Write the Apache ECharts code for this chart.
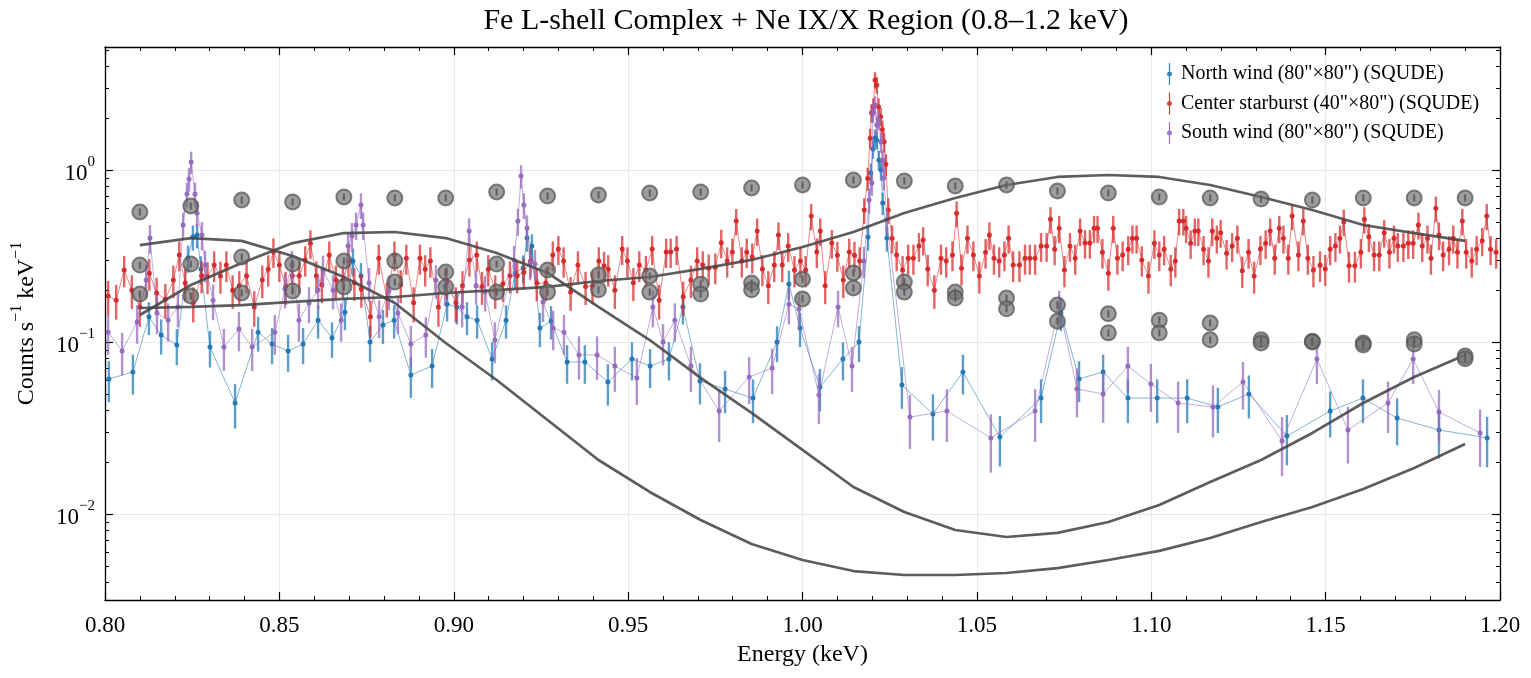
<!DOCTYPE html>
<html><head><meta charset="utf-8">
<script src="https://cdn.jsdelivr.net/npm/echarts@6/dist/echarts.min.js"></script>
<style>html,body{margin:0;padding:0;background:#fff}#chart{width:1531px;height:678px}</style>
</head><body><div id="chart"></div>
<script>
const FONT = '"Liberation Serif","Times New Roman",serif';

// ---- Data (keV, counts s^-1 keV^-1) ----
const redX = [0.8009,0.8032,0.8055,0.8077,0.8100,0.8127,0.8148,0.8173,0.8196,0.8213,0.8230,0.8253,0.8277,0.8294,0.8313,0.8331,0.8348,0.8366,0.8385,0.8406,0.8428,0.8451,0.8468,0.8483,0.8500,0.8518,0.8537,0.8557,0.8574,0.8589,0.8606,0.8622,0.8643,0.8662,0.8682,0.8698,0.8715,0.8735,0.8761,0.8785,0.8808,0.8830,0.8848,0.8864,0.8885,0.8903,0.8918,0.8933,0.8956,0.8980,0.9006,0.9025,0.9045,0.9066,0.9081,0.9099,0.9119,0.9141,0.9161,0.9182,0.9201,0.9220,0.9238,0.9264,0.9284,0.9300,0.9315,0.9335,0.9356,0.9378,0.9398,0.9416,0.9431,
0.9443,0.9462,0.9483,0.9498,0.9515,0.9532,0.9551,0.9569,0.9589,0.9609,0.9622,0.9639,0.9658,0.9680,0.9698,0.9714,0.9731,0.9750,0.9767,0.9784,0.9799,0.9810,0.9826,0.9840,0.9856,0.9870,0.9885,0.9902,0.9919,0.9931,0.9942,0.9959,0.9977,0.9994,1.0009,1.0025,1.0041,1.0051,1.0065,1.0084,1.0100,1.0117,1.0134,1.0149,1.0164,1.0177,1.0187,1.0194,1.0198,1.0203,1.0208,1.0213,1.0218,1.0224,1.0229,1.0234,1.0239,1.0246,1.0257,1.0270,1.0287,1.0303,1.0318,1.0334,1.0346,1.0359,1.0378,1.0397,1.0412,1.0430,1.0442,1.0456,1.0473,1.0490,1.0507,1.0525,1.0536,1.0549,1.0564,1.0579,1.0591,1.0604,1.0622,1.0638,1.0652,1.0667,1.0684,1.0700,1.0711,1.0723,1.0736,1.0751,1.0767,1.0782,1.0796,1.0810,1.0824,1.0836,1.0846,1.0860,1.0877,
1.0891,1.0903,1.0918,1.0934,1.0946,1.0958,1.0973,1.0992,1.1009,1.1023,1.1037,1.1056,1.1069,1.1080,1.1092,1.1100,1.1113,1.1125,1.1135,1.1150,1.1164,1.1175,1.1188,1.1199,1.1216,1.1232,1.1247,1.1261,1.1279,1.1295,1.1313,1.1328,1.1341,1.1354,1.1367,1.1379,1.1393,1.1404,1.1422,1.1436,1.1449,1.1465,1.1484,1.1499,1.1513,1.1528,1.1541,1.1552,1.1567,1.1584,1.1601,1.1611,1.1624,1.1639,1.1654,1.1668,1.1683,1.1696,1.1707,1.1723,1.1737,1.1751,1.1766,1.1777,1.1792,1.1802,1.1816,1.1825,1.1837,1.1854,1.1866,1.1878,1.1892,1.1903,1.1919,1.1933,1.1949,1.1962,1.1973,1.1989];
const redY = [0.185,0.175,0.262,0.200,0.160,0.251,0.193,0.177,0.229,0.321,0.220,0.169,0.243,0.240,0.280,0.242,0.280,0.200,0.212,0.243,0.160,0.229,0.265,0.335,0.280,0.210,0.243,0.243,0.300,0.375,0.243,0.215,0.321,0.229,0.229,0.297,0.221,0.203,0.140,0.307,0.180,0.321,0.215,0.307,0.169,0.307,0.265,0.296,0.160,0.224,0.169,0.212,0.300,0.321,0.210,0.265,0.200,0.218,0.243,0.243,0.254,0.296,0.220,0.220,0.321,0.347,0.296,0.195,0.280,0.210,0.212,0.296,0.277,
0.265,0.200,0.347,0.296,0.221,0.280,0.262,0.347,0.175,0.334,0.334,0.347,0.183,0.229,0.296,0.280,0.268,0.272,0.378,0.296,0.334,0.505,0.296,0.334,0.312,0.442,0.266,0.212,0.280,0.419,0.280,0.361,0.262,0.296,0.262,0.540,0.334,0.442,0.212,0.376,0.319,0.229,0.334,0.319,0.296,0.585,0.894,1.53,2.15,2.33,3.34,3.12,2.33,2.04,1.72,1.46,1.08,0.585,0.401,0.321,0.262,0.307,0.307,0.361,0.392,0.266,0.200,0.307,0.296,0.321,0.560,0.268,0.401,0.321,0.242,0.332,0.419,0.307,0.296,0.321,0.401,0.280,0.280,0.307,0.307,0.307,0.361,0.361,0.517,0.346,0.458,0.262,0.361,0.307,0.442,0.376,0.376,0.458,0.458,0.332,0.251,
0.458,0.307,0.321,0.346,0.401,0.401,0.300,0.242,0.375,0.321,0.346,0.266,0.296,0.505,0.505,0.458,0.375,0.442,0.442,0.346,0.296,0.442,0.401,0.432,0.328,0.361,0.401,0.260,0.332,0.242,0.347,0.375,0.442,0.307,0.458,0.401,0.307,0.540,0.321,0.505,0.307,0.262,0.280,0.266,0.346,0.361,0.401,0.500,0.278,0.278,0.332,0.517,0.409,0.321,0.321,0.432,0.332,0.401,0.361,0.361,0.375,0.375,0.479,0.361,0.401,0.307,0.599,0.419,0.321,0.346,0.401,0.332,0.505,0.332,0.296,0.346,0.388,0.540,0.346,0.332];

const blueX = [0.8011,0.8080,0.8126,0.8161,0.8206,0.8238,0.8252,0.8264,0.8275,0.8301,0.8373,0.8439,0.8479,0.8525,0.8568,0.8611,0.8651,0.8688,0.8711,0.8734,0.8760,0.8797,0.8829,0.8877,0.8938,0.8981,0.9009,0.9038,0.9067,0.9110,0.9150,0.9176,0.9199,0.9210,0.9224,0.9247,0.9279,0.9325,0.9376,0.9442,0.9511,0.9563,0.9617,0.9657,0.9706,0.9778,0.9858,0.9927,0.9961,0.9993,1.0050,1.0116,1.0162,1.0188,1.0196,1.0202,1.0208,1.0213,1.0219,1.0225,1.0230,1.0242,1.0285,1.0374,1.0460,1.0566,1.0684,1.0741,1.0793,1.0862,1.0933,1.1017,1.1103,1.1191,1.1280,1.1389,1.1513,1.1607,1.1705,1.1825,1.1963];
const blueY = [0.0610,0.0669,0.140,0.110,0.0961,0.308,0.408,0.419,0.266,0.0935,0.0442,0.114,0.0974,0.0886,0.0974,0.134,0.1055,0.149,0.296,0.242,0.100,0.1255,0.134,0.0643,0.0725,0.166,0.160,0.140,0.134,0.0797,0.134,0.252,0.269,0.402,0.361,0.1206,0.1325,0.0765,0.0765,0.0585,0.0797,0.0725,0.0797,0.160,0.0593,0.0533,0.0472,0.100,0.2175,0.1206,0.0547,0.0797,0.100,0.408,0.961,1.325,1.535,1.494,1.143,1.00,0.643,0.402,0.0562,0.0382,0.0669,0.0280,0.0472,0.1475,0.0610,0.0669,0.0472,0.0472,0.0472,0.0419,0.0499,0.0284,0.0397,0.0472,0.0361,0.0308,0.0277];

const purpleX = [0.8009,0.8049,0.8092,0.8118,0.8129,0.8149,0.8181,0.8209,0.8224,0.8235,0.8241,0.8247,0.8258,0.8264,0.8278,0.8287,0.8310,0.8341,0.8384,0.8422,0.8487,0.8516,0.8536,0.8556,0.8585,0.8611,0.8625,0.8654,0.8677,0.8697,0.8708,0.8720,0.8734,0.8740,0.8757,0.8786,0.8814,0.8840,0.8877,0.8920,0.8949,0.8975,0.9024,0.9044,0.9064,0.9090,0.9118,0.9173,0.9184,0.9193,0.9201,0.9210,0.9219,0.9233,0.9256,0.9285,0.9316,0.9359,0.9411,0.9462,0.9525,0.9571,0.9600,0.9634,0.9680,0.9761,0.9847,0.9913,0.9961,0.9990,1.0047,1.0102,1.0142,1.0176,1.0191,1.0199,1.0202,1.0208,1.0213,1.0219,1.0225,1.0230,1.0233,1.0242,1.0308,1.0414,1.0540,1.0667,1.0736,1.0787,1.0862,1.0933,1.0999,1.1077,1.1177,1.1263,1.1375,1.1475,1.1564,1.1679,1.1751,1.1825,1.1943];
const purpleY = [0.114,0.0886,0.1307,0.229,0.402,0.1475,0.134,0.160,0.479,0.725,0.886,1.113,0.725,0.560,0.419,0.280,0.175,0.0935,0.119,0.0935,0.114,0.203,0.280,0.134,0.1685,0.2005,0.262,0.200,0.134,0.361,0.413,0.479,0.626,0.479,0.220,0.140,0.198,0.1475,0.0974,0.110,0.229,0.209,0.160,0.442,0.212,0.195,0.1027,0.300,0.505,0.923,0.626,0.460,0.288,0.284,0.171,0.1206,0.114,0.0841,0.0841,0.0725,0.0618,0.160,0.100,0.134,0.0725,0.0397,0.0626,0.0706,0.166,0.1555,0.0492,0.160,0.0725,0.296,0.669,0.840,2.145,2.39,1.827,1.953,1.455,1.143,0.898,0.512,0.0366,0.0397,0.0277,0.0397,0.160,0.0533,0.0499,0.0725,0.0570,0.0442,0.0419,0.0585,0.0266,0.0797,0.0308,0.0442,0.0797,0.0392,0.0296];

// model grid (gray curves and gray circles)
const modelX = [0.8100,0.8246,0.8392,0.8538,0.8685,0.8831,0.8977,0.9123,0.9269,0.9415,0.9562,0.9708,0.9854,1.0000,1.0146,1.0292,1.0438,1.0585,1.0731,1.0877,1.1023,1.1169,1.1315,1.1462,1.1608,1.1754,1.1900];
const curveA = [0.366,0.402,0.387,0.316,0.239,0.1685,0.0987,0.0601,0.0352,0.0206,0.01343,0.00923,0.00669,0.0054,0.00466,0.00442,0.00442,0.00454,0.00485,0.0054,0.0061,0.00725,0.00899,0.01098,0.01397,0.0185,0.0255];
const curveB = [0.1435,0.2145,0.288,0.376,0.430,0.436,0.402,0.329,0.252,0.160,0.1027,0.0618,0.0387,0.0236,0.01436,0.01027,0.00807,0.00735,0.00776,0.00899,0.01128,0.01535,0.0206,0.0296,0.0442,0.0626,0.0841];
const curveC = [0.1576,0.160,0.164,0.171,0.178,0.1826,0.1927,0.2005,0.209,0.2263,0.2387,0.266,0.300,0.3566,0.436,0.5623,0.6876,0.818,0.911,0.935,0.911,0.818,0.697,0.585,0.479,0.430,0.387];
const circTop = [0.570,0.618,0.669,0.652,0.697,0.688,0.688,0.745,0.706,0.716,0.735,0.745,0.786,0.818,0.875,0.863,0.807,0.818,0.755,0.735,0.697,0.688,0.678,0.669,0.688,0.688,0.688];
const circMid = [0.280,0.284,0.312,0.284,0.296,0.296,0.255,0.284,0.262,0.245,0.242,0.217,0.220,0.232,0.252,0.223,0.195,0.180,0.164,0.146,0.134,0.129,0.103,0.101,0.0987,0.103,0.083];
const circLow = [0.190,0.185,0.193,0.198,0.209,0.223,0.209,0.195,0.195,0.201,0.195,0.190,0.201,0.178,0.206,0.195,0.180,0.156,0.132,0.113,0.113,0.103,0.0987,0.100,0.096,0.0974,0.080];

// typical relative error at a reference level, per series
const redErr = {base: 0.20, ref: 0.30};
const blueErr = {base: 0.25, ref: 0.08};
const purpleErr = {base: 0.27, ref: 0.10};

const xTickLabels = ['0.80','0.85','0.90','0.95','1.00','1.05','1.10','1.15','1.20'];
const yMajor = [0.01, 0.1, 1];
const yMinor = [0.004,0.005,0.006,0.007,0.008,0.009,0.02,0.03,0.04,0.05,0.06,0.07,0.08,0.09,0.2,0.3,0.4,0.5,0.6,0.7,0.8,0.9,2,3,4,5];

const names = ['North wind (80"×80") (SQUDE)', 'Center starburst (40"×80") (SQUDE)', 'South wind (80"×80") (SQUDE)'];
const colors = ['#1f77b4', '#d62728', '#9467bd'];

// ---- build ----
function pts(xs, ys) { const n = Math.min(xs.length, ys.length); const a = []; for (let i = 0; i < n; i++) a.push([xs[i], ys[i]]); return a; }
function errPts(xs, ys, e) {
  const n = Math.min(xs.length, ys.length); const a = [];
  for (let i = 0; i < n; i++) { const v = ys[i]; const r = e.base * Math.pow(v / e.ref, -0.25); const d = v * r; a.push([xs[i], Math.max(v - d, v * 0.25), v + d]); }
  return a;
}
function barRender(color, width, opacity) {
  return function (params, api) {
    const p1 = api.coord([api.value(0), api.value(1)]);
    const p2 = api.coord([api.value(0), api.value(2)]);
    return { type: 'line', shape: { x1: p1[0], y1: p1[1], x2: p2[0], y2: p2[1] }, style: { stroke: color, lineWidth: width, opacity: opacity } };
  };
}
function circMark(params, api) {
  const p = api.coord([api.value(0), api.value(1)]);
  return { type: 'line', shape: { x1: p[0], y1: p[1] - 3.5, x2: p[0], y2: p[1] + 3.5 }, style: { stroke: '#5e5e5e', lineWidth: 2 } };
}

const series = [];
const sets = [[blueX, blueY, blueErr], [redX, redY, redErr], [purpleX, purpleY, purpleErr]];
sets.forEach((s, k) => {
  series.push({ name: names[k] + ' err', type: 'custom', renderItem: barRender(colors[k], 2.4, 0.72), data: errPts(s[0], s[1], s[2]), encode: { x: 0, y: [1, 2] }, z: 2 + k, silent: true });
  series.push({ name: names[k], type: 'line', data: pts(s[0], s[1]), symbol: 'circle', symbolSize: 5, showSymbol: true,
    lineStyle: { color: colors[k], width: 1, opacity: 0.55 }, itemStyle: { color: colors[k], opacity: 0.95 }, z: 2 + k, silent: true });
});
[curveA, curveB, curveC].forEach((c, k) => {
  series.push({ name: 'model' + k, type: 'line', data: pts(modelX, c), symbol: 'none', lineStyle: { color: '#474747', width: 2.7, opacity: 0.88 }, z: 6, silent: true });
});
[circTop, circMid, circLow].forEach((c, k) => {
  series.push({ name: 'pts' + k, type: 'scatter', data: pts(modelX, c), symbol: 'circle', symbolSize: 15,
    itemStyle: { color: 'rgba(112,112,112,0.85)', borderColor: 'rgba(85,85,85,0.9)', borderWidth: 2 }, z: 7, silent: true });
  series.push({ name: 'ptsm' + k, type: 'custom', renderItem: circMark, data: pts(modelX, c), z: 8, silent: true });
});

const axisLine = { show: true, onZero: false, lineStyle: { color: '#000', width: 1.3 } };
const yBase = { type: 'log', logBase: 10, min: 0.003162, max: 5.19, gridIndex: 0 };
const tickStyle = { color: '#000', width: 1.2 };

const option = {
  animation: false,
  backgroundColor: '#fff',
  grid: { left: 105, right: 31, top: 47, bottom: 78, containLabel: false },
  graphic: [{ type: 'text', x: 806, y: 6, style: { text: 'Fe L-shell Complex + Ne IX/X Region (0.8–1.2 keV)', font: '30px ' + FONT, fill: '#000', textAlign: 'center' } }],
  legend: {
    data: names, orient: 'vertical', left: 1162, top: 58, itemWidth: 5, itemHeight: 22, itemGap: 7.5,
    icon: 'path://M2.4,0H3.6V22H2.4Z M3,8.5A2.5,2.5 0 1 1 2.99,8.5Z',
    textStyle: { fontFamily: FONT, fontSize: 20, color: '#000', padding: [0, 0, 0, 4] }, itemStyle: { opacity: 0.9 }
  },
  xAxis: [
    { type: 'value', min: 0.8, max: 1.2, interval: 0.05, position: 'bottom', axisLine,
      axisTick: { inside: true, length: 8, lineStyle: tickStyle },
      minorTick: { show: true, splitNumber: 5, length: 4, lineStyle: { color: '#000', width: 1 } },
      splitLine: { show: true, lineStyle: { color: '#e9e9e9', width: 1 } },
      axisLabel: { formatter: v => xTickLabels[Math.round((v - 0.8) / 0.05)], fontFamily: FONT, fontSize: 23, color: '#000', margin: 14 },
      name: 'Energy (keV)', nameLocation: 'middle', nameGap: 43, nameTextStyle: { fontFamily: FONT, fontSize: 24, color: '#000' } },
    { type: 'value', min: 0.8, max: 1.2, interval: 0.05, position: 'top', axisLine,
      axisTick: { inside: true, length: 8, lineStyle: tickStyle },
      minorTick: { show: true, splitNumber: 5, length: 4, lineStyle: { color: '#000', width: 1 } },
      splitLine: { show: false }, axisLabel: { show: false } }
  ],
  yAxis: [
    Object.assign({}, yBase, { position: 'left', axisLine,
      axisTick: { inside: true, length: 8, lineStyle: tickStyle, customValues: yMajor },
      splitLine: { show: true, lineStyle: { color: '#e9e9e9', width: 1 } },
      axisLabel: { customValues: yMajor, margin: 10, formatter: v => { const e = Math.round(Math.log10(v)); return '{b|10}{s|' + (e < 0 ? '−' + (-e) : e) + '}'; },
        rich: { b: { fontFamily: FONT, fontSize: 23, color: '#000', lineHeight: 30, verticalAlign: 'bottom' }, s: { fontFamily: FONT, fontSize: 15, color: '#000', lineHeight: 15, verticalAlign: 'top' } } },
      name: '{n|Counts s}{s|−1}{n| keV}{s|−1}', nameLocation: 'middle', nameGap: 66,
      nameTextStyle: { rich: { n: { fontFamily: FONT, fontSize: 24, color: '#000', lineHeight: 30, verticalAlign: 'bottom' }, s: { fontFamily: FONT, fontSize: 16, color: '#000', lineHeight: 16, verticalAlign: 'top' } } } }),
    Object.assign({}, yBase, { position: 'left', axisLine: { show: false },
      axisTick: { inside: true, length: 4, lineStyle: { color: '#000', width: 1 }, customValues: yMinor },
      splitLine: { show: false }, axisLabel: { show: false } }),
    Object.assign({}, yBase, { position: 'right', axisLine,
      axisTick: { inside: true, length: 8, lineStyle: tickStyle, customValues: yMajor },
      splitLine: { show: false }, axisLabel: { show: false } }),
    Object.assign({}, yBase, { position: 'right', axisLine: { show: false },
      axisTick: { inside: true, length: 4, lineStyle: { color: '#000', width: 1 }, customValues: yMinor },
      splitLine: { show: false }, axisLabel: { show: false } })
  ],
  series
};
const chart = echarts.init(document.getElementById('chart'));
chart.setOption(option);
</script></body></html>
